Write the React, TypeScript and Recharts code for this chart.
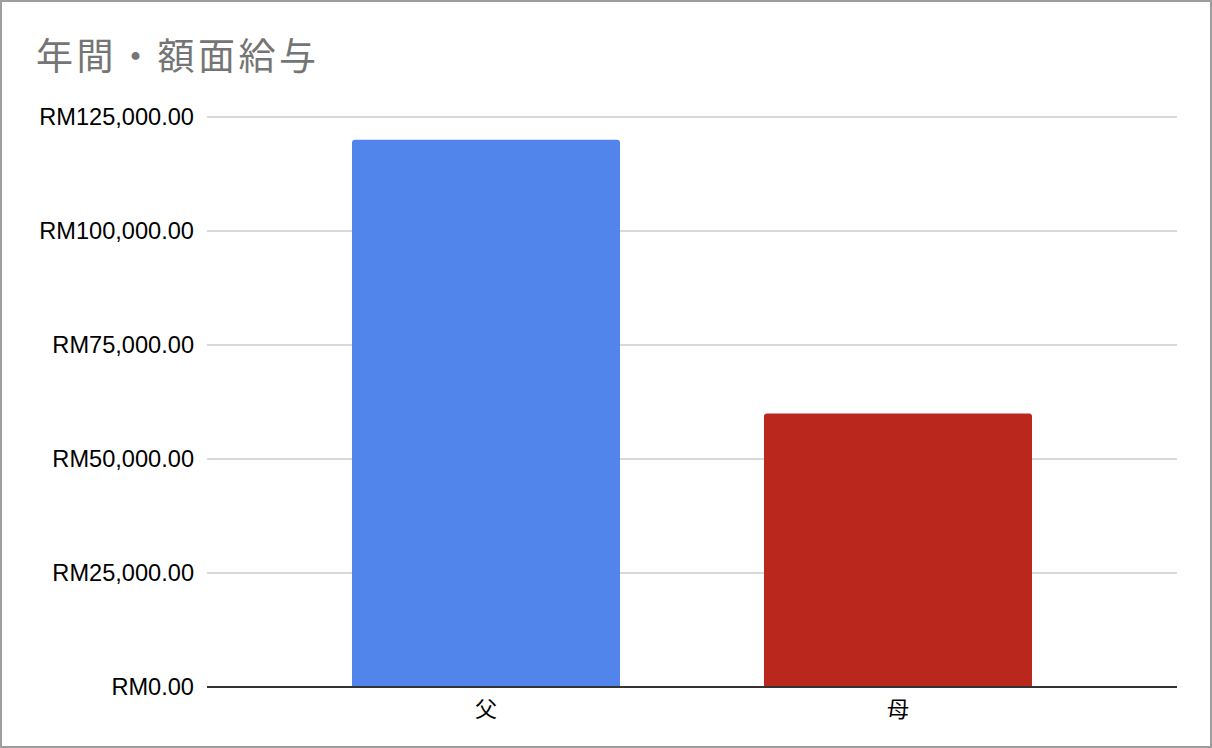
import React from "react";
import { BarChart, Bar, XAxis, YAxis, CartesianGrid, Cell } from "recharts";

// 年間の額面給与（RM）
const people = ["父", "母"];
const salaries = [120000, 60000];
const barColors = ["#5285EC", "#BA271D"];
const yTicks = [0, 25000, 50000, 75000, 100000, 125000];

const data = people.map((name, i) => ({ name, salary: salaries[i] }));

const formatRM = (v: number) =>
  "RM" + v.toLocaleString("en-US", { minimumFractionDigits: 2, maximumFractionDigits: 2 });

export default function App() {
  return (
    <div style={{ position: "absolute", left: 0, top: 0, width: 1212, height: 748, background: "#fff" }}>
      <div
        style={{
          position: "absolute",
          left: 36,
          top: 36,
          fontFamily: '"Noto Sans CJK JP", sans-serif',
          fontSize: 37,
          lineHeight: "37px",
          letterSpacing: 3.5,
          color: "#757575",
          whiteSpace: "nowrap",
        }}
      >
        年間・額面給与
      </div>
      <div style={{ position: "absolute", left: 0, top: 0 }}>
        <BarChart width={1212} height={748} data={data} margin={{ top: 117, right: 35, left: 17, bottom: 21 }}>
          <CartesianGrid vertical={false} stroke="#cccccc" strokeWidth={1.5} />
          <XAxis
            dataKey="name"
            height={40}
            padding={{ left: 73, right: 73 }}
            tickLine={false}
            tickSize={0}
            tickMargin={14}
            axisLine={{ stroke: "#333333", strokeWidth: 2 }}
            tick={{ fontSize: 22, fill: "#000", fontFamily: '"Noto Sans CJK JP", sans-serif' }}
          />
          <YAxis
            width={190}
            domain={[0, 125000]}
            ticks={yTicks}
            tickFormatter={formatRM}
            axisLine={false}
            tickLine={false}
            tickSize={0}
            tickMargin={13}
            tick={{ fontSize: 23.6, fill: "#000", fontFamily: '"Liberation Sans", Arial, sans-serif' }}
          />
          <Bar dataKey="salary" barSize={268} radius={[3, 3, 0, 0]} isAnimationActive={false}>
            {data.map((d, i) => (
              <Cell key={d.name} fill={barColors[i]} />
            ))}
          </Bar>
        </BarChart>
      </div>
      <div
        style={{
          position: "absolute",
          left: 0,
          top: 0,
          width: 1212,
          height: 748,
          boxSizing: "border-box",
          border: "2px solid #9e9e9e",
          pointerEvents: "none",
        }}
      />
    </div>
  );
}
